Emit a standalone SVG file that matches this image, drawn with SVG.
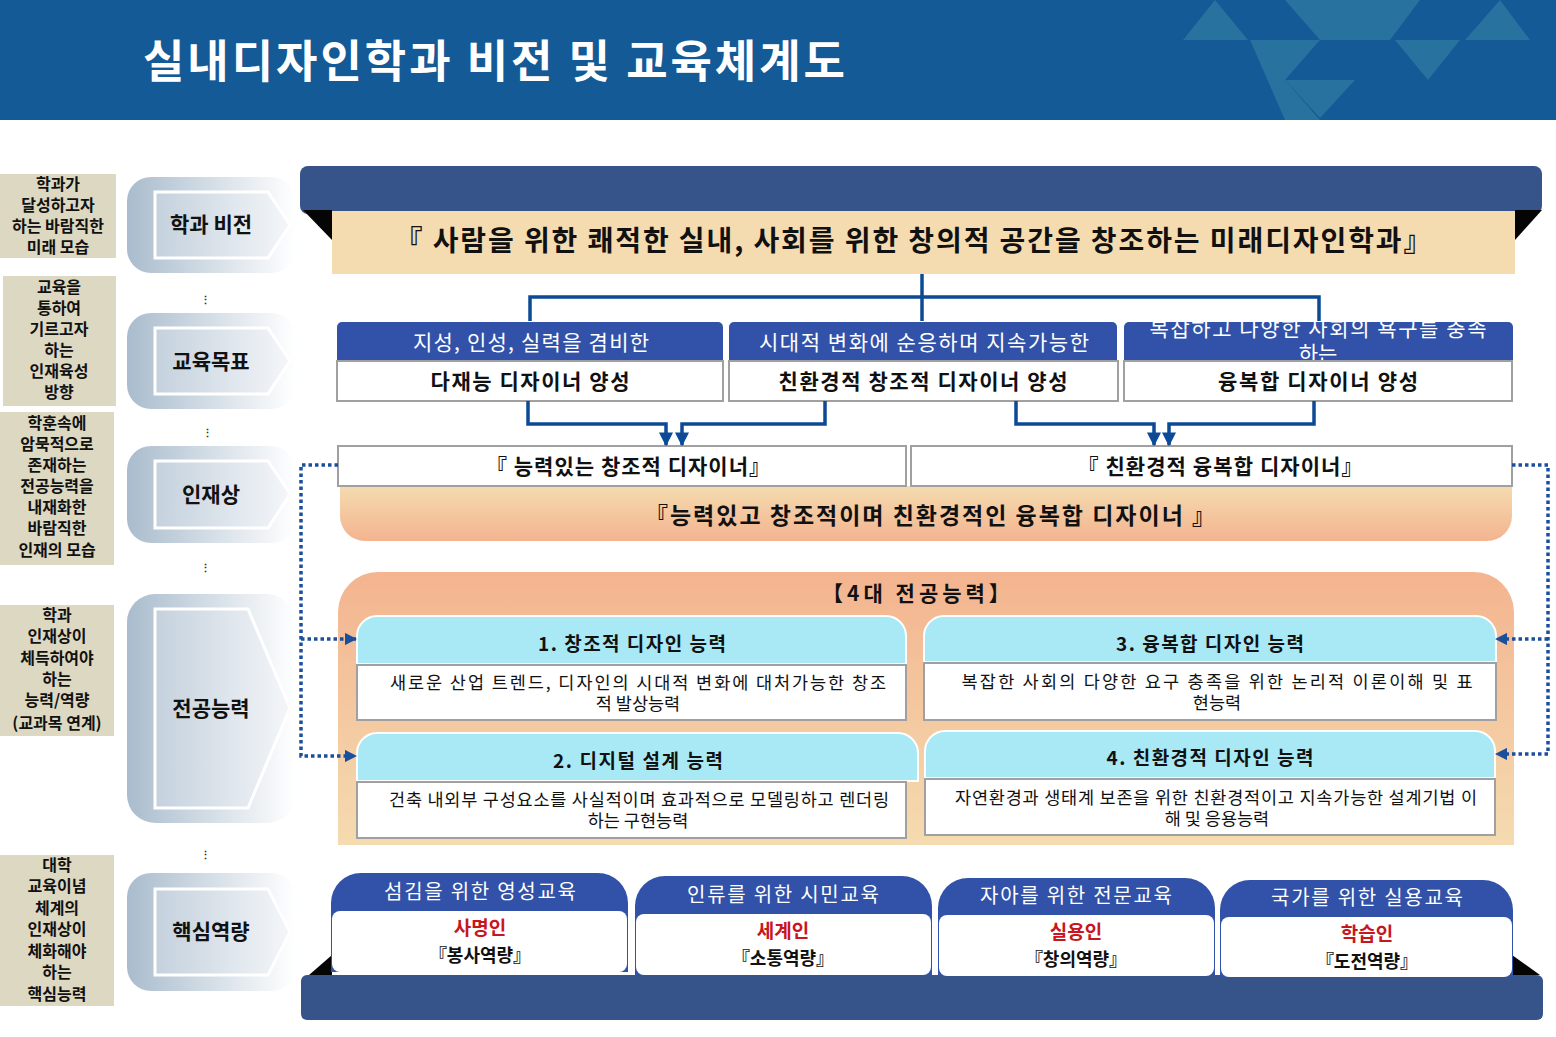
<svg xmlns="http://www.w3.org/2000/svg" width="1556" height="1037" viewBox="0 0 1556 1037">
<defs>
<style>
text{font-family:"Noto Sans CJK KR","Noto Sans",sans-serif;font-weight:bold;text-anchor:middle}
.lbl{font-size:16px;fill:#111}
.tab{font-size:21px;fill:#111}
.wh{fill:#fff}
.gbox{fill:#fff;stroke:#a0a0a0;stroke-width:2}
.conn{fill:none;stroke:#0d4a96;stroke-width:3.5}
.dot{fill:none;stroke:#1a4f9c;stroke-width:3.5;stroke-dasharray:3.5 3}
.cyan{fill:#a9e9f6}
.blue{fill:#3152a8}
.bar{fill:#36548a}
</style>
<linearGradient id="tabg" x1="0" y1="0" x2="1" y2="0"><stop offset="0" stop-color="#a9bccd"/><stop offset="1" stop-color="#ffffff"/></linearGradient>
<linearGradient id="tabi" x1="0" y1="0" x2="1" y2="0"><stop offset="0" stop-color="#c4d1dd"/><stop offset="1" stop-color="#f4f6f9"/></linearGradient>
<linearGradient id="peach" x1="0" y1="0" x2="0" y2="1"><stop offset="0" stop-color="#f3b48f"/><stop offset="1" stop-color="#f5dbb0"/></linearGradient>
<linearGradient id="peach2" x1="0" y1="0" x2="0" y2="1"><stop offset="0" stop-color="#f5dbb0"/><stop offset="1" stop-color="#f3b48f"/></linearGradient>
<marker id="ah" viewBox="0 0 10 10" refX="9" refY="5" markerWidth="4" markerHeight="4" orient="auto"><path d="M0,0L10,5L0,10z" fill="#0d4a96"/></marker>
<marker id="ah2" viewBox="0 0 10 10" refX="9" refY="5" markerWidth="3.5" markerHeight="3.5" orient="auto" markerUnits="strokeWidth"><path d="M0,0L10,5L0,10z" fill="#1a4f9c"/></marker>
<clipPath id="c3"><rect x="1124" y="321" width="389" height="40"/></clipPath>
</defs>

<g id="header">
<rect x="0" y="0" width="1556" height="120" fill="#135a96"/>
<g fill="#3a86a8" opacity="0.55">
<polygon points="1183,40 1248,40 1215,0"/>
<polygon points="1250,40 1320,40 1285,80 1320,120 1285,120"/>
<polygon points="1285,0 1320,40 1390,40 1420,0"/>
<polygon points="1395,40 1460,40 1428,80"/>
<polygon points="1465,40 1530,40 1500,0"/>
<polygon points="1285,80 1355,80 1320,118"/>
</g>
<text x="143" y="78" style="font-size:45px;text-anchor:start" textLength="702" class="wh">실내디자인학과 비전 및 교육체계도</text>
</g>

<g id="left-labels">
<rect x="0" y="174" width="116" height="84" fill="#ddd8c2"/>
<text class="lbl"><tspan x="58" y="190">학과가</tspan><tspan x="58" y="211">달성하고자</tspan><tspan x="58" y="232">하는 바람직한</tspan><tspan x="58" y="253">미래 모습</tspan></text>
<rect x="3" y="276" width="113" height="130" fill="#ddd8c2"/>
<text class="lbl"><tspan x="59" y="293">교육을</tspan><tspan x="59" y="314">통하여</tspan><tspan x="59" y="335">기르고자</tspan><tspan x="59" y="356">하는</tspan><tspan x="59" y="377">인재육성</tspan><tspan x="59" y="398">방향</tspan></text>
<rect x="0" y="412" width="114" height="153" fill="#ddd8c2"/>
<text class="lbl"><tspan x="57" y="429">학훈속에</tspan><tspan x="57" y="450">암묵적으로</tspan><tspan x="57" y="471">존재하는</tspan><tspan x="57" y="492">전공능력을</tspan><tspan x="57" y="513">내재화한</tspan><tspan x="57" y="534">바람직한</tspan><tspan x="57" y="556">인재의 모습</tspan></text>
<rect x="0" y="605" width="114" height="131" fill="#ddd8c2"/>
<text class="lbl"><tspan x="57" y="621">학과</tspan><tspan x="57" y="642">인재상이</tspan><tspan x="57" y="664">체득하여야</tspan><tspan x="57" y="685">하는</tspan><tspan x="57" y="706">능력/역량</tspan><tspan x="57" y="729">(교과목 연계)</tspan></text>
<rect x="0" y="855" width="114" height="151" fill="#ddd8c2"/>
<text class="lbl"><tspan x="57" y="871">대학</tspan><tspan x="57" y="892">교육이념</tspan><tspan x="57" y="914">체계의</tspan><tspan x="57" y="935">인재상이</tspan><tspan x="57" y="957">체화해야</tspan><tspan x="57" y="978">하는</tspan><tspan x="57" y="1000">핵심능력</tspan></text>
</g>

<g id="tab-vision">
<rect x="127" y="177" width="168" height="96" rx="24" fill="url(#tabg)"/>
<polygon points="155,192 268,192 290,225 268,258 155,258" fill="url(#tabi)" stroke="#fff" stroke-width="3"/>
<text x="211" y="232" class="tab">학과 비전</text>
</g>
<g id="tab-goal">
<rect x="127" y="313" width="168" height="96" rx="24" fill="url(#tabg)"/>
<polygon points="155,328 268,328 290,361 268,394 155,394" fill="url(#tabi)" stroke="#fff" stroke-width="3"/>
<text x="211" y="369" class="tab">교육목표</text>
</g>
<g id="tab-talent">
<rect x="127" y="446" width="168" height="97" rx="24" fill="url(#tabg)"/>
<polygon points="155,461 268,461 290,494 268,528 155,528" fill="url(#tabi)" stroke="#fff" stroke-width="3"/>
<text x="211" y="502" class="tab">인재상</text>
</g>
<g id="tab-major">
<rect x="127" y="594" width="168" height="229" rx="28" fill="url(#tabg)"/>
<polygon points="155,609 248,609 290,708 248,808 155,808" fill="url(#tabi)" stroke="#fff" stroke-width="3"/>
<text x="211" y="716" class="tab">전공능력</text>
</g>
<g id="tab-core">
<rect x="127" y="873" width="168" height="118" rx="24" fill="url(#tabg)"/>
<polygon points="155,889 268,889 290,932 268,975 155,975" fill="url(#tabi)" stroke="#fff" stroke-width="3"/>
<text x="211" y="939" class="tab">핵심역량</text>
</g>
<g id="dots" fill="#333">
<text x="205" y="304" style="font-size:11px">⋮</text>
<text x="207" y="437" style="font-size:11px">⋮</text>
<text x="205" y="572" style="font-size:11px">⋮</text>
<text x="205" y="859" style="font-size:11px">⋮</text>
</g>

<g id="vision">
<rect x="300" y="166" width="1242" height="48" rx="8" class="bar"/>
<polygon points="303,210 332,210 332,240" fill="#050505"/>
<polygon points="1515,210 1542,210 1515,240" fill="#050505"/>
<rect x="332" y="211" width="1183" height="63" fill="#f5dbb0"/>
<text x="913" y="251" style="font-size:28px" textLength="1037" fill="#111">『  사람을 위한 쾌적한 실내, 사회를 위한 창의적 공간을 창조하는 미래디자인학과』</text>
</g>

<g id="goal1">
<path d="M337,361V327a5,5 0 0 1 5,-5H718a5,5 0 0 1 5,5V361Z" class="blue"/>
<text x="531" y="350" style="font-size:21px;font-weight:normal" textLength="236" class="wh">지성, 인성, 실력을 겸비한</text>
<rect x="337" y="361" width="386" height="40" class="gbox"/>
<text x="530" y="389" style="font-size:21px" textLength="199" fill="#111">다재능 디자이너 양성</text>
</g>
<g id="goal2">
<path d="M729,361V327a5,5 0 0 1 5,-5H1112a5,5 0 0 1 5,5V361Z" class="blue"/>
<text x="924" y="350" style="font-size:21px;font-weight:normal" textLength="330" class="wh">시대적 변화에 순응하며 지속가능한</text>
<rect x="729" y="361" width="389" height="40" class="gbox"/>
<text x="923" y="389" style="font-size:21px" textLength="289" fill="#111">친환경적 창조적 디자이너 양성</text>
</g>
<g id="goal3">
<path d="M1124,361V327a5,5 0 0 1 5,-5H1508a5,5 0 0 1 5,5V361Z" class="blue"/>
<g clip-path="url(#c3)"><text class="wh" style="font-size:21px;font-weight:normal"><tspan x="1318" y="336" textLength="337">복잡하고 다양한 사회의 욕구를 충족</tspan><tspan x="1318" y="361">하는</tspan></text></g>
<rect x="1124" y="361" width="388" height="40" class="gbox"/>
<text x="1318" y="389" style="font-size:21px" textLength="200" fill="#111">융복합 디자이너 양성</text>
</g>

<g id="talent">
<path d="M340,486H1512V516a25,25 0 0 1 -25,25H365a25,25 0 0 1 -25,-25Z" fill="url(#peach2)"/>
<rect x="338" y="446" width="568" height="40" class="gbox"/>
<text x="628" y="474" style="font-size:21px" textLength="284" fill="#111">『 능력있는 창조적 디자이너』</text>
<rect x="911" y="446" width="601" height="40" class="gbox"/>
<text x="1220" y="474" style="font-size:21px" textLength="285" fill="#111">『 친환경적 융복합 디자이너』</text>
<text x="930" y="524" style="font-size:23px" textLength="570" fill="#111">『능력있고 창조적이며 친환경적인 융복합 디자이너 』</text>
</g>

<g id="major">
<path d="M338,845V612a40,40 0 0 1 40,-40H1474a40,40 0 0 1 40,40V845Z" fill="url(#peach)"/>
<text x="918" y="601" style="font-size:21px;letter-spacing:4px" fill="#111">【4대  전공능력】</text>
</g>
<g id="comp1">
<path d="M357,664V636a20,20 0 0 1 20,-20H886a20,20 0 0 1 20,20V664Z" class="cyan" stroke="#fff" stroke-width="2"/>
<text x="632" y="651" style="font-size:19px" textLength="188" fill="#111">1. 창조적 디자인 능력</text>
<rect x="357" y="665" width="549" height="55" class="gbox" stroke="#d0d0d0"/>
<text style="font-size:17.5px;font-weight:normal" fill="#111"><tspan x="638" y="689" textLength="496">새로운 산업 트렌드, 디자인의 시대적 변화에 대처가능한 창조</tspan><tspan x="638" y="710">적  발상능력</tspan></text>
</g>
<g id="comp2">
<path d="M357,781V753a20,20 0 0 1 20,-20H898a20,20 0 0 1 20,20V781Z" class="cyan" stroke="#fff" stroke-width="2"/>
<text x="638" y="768" style="font-size:19px" textLength="170" fill="#111">2. 디지털 설계 능력</text>
<rect x="357" y="782" width="549" height="56" class="gbox" stroke="#d0d0d0"/>
<text style="font-size:17.5px;font-weight:normal" fill="#111"><tspan x="639" y="806" textLength="500">건축 내외부 구성요소를 사실적이며 효과적으로 모델링하고 렌더링</tspan><tspan x="638" y="827">하는 구현능력</tspan></text>
</g>
<g id="comp3">
<path d="M924,662V636a20,20 0 0 1 20,-20H1476a20,20 0 0 1 20,20V662Z" class="cyan" stroke="#fff" stroke-width="2"/>
<text x="1210" y="651" style="font-size:19px" textLength="188" fill="#111">3. 융복합 디자인 능력</text>
<rect x="924" y="663" width="572" height="57" class="gbox" stroke="#d0d0d0"/>
<text style="font-size:17.5px;font-weight:normal" fill="#111"><tspan x="1217" y="688" textLength="511">복잡한 사회의 다양한 요구 충족을 위한  논리적 이론이해 및 표</tspan><tspan x="1217" y="709">현능력</tspan></text>
</g>
<g id="comp4">
<path d="M925,778V751a20,20 0 0 1 20,-20H1475a20,20 0 0 1 20,20V778Z" class="cyan" stroke="#fff" stroke-width="2"/>
<text x="1210" y="765" style="font-size:19px" textLength="207" fill="#111">4. 친환경적 디자인 능력</text>
<rect x="925" y="779" width="570" height="56" class="gbox" stroke="#d0d0d0"/>
<text style="font-size:17.5px;font-weight:normal" fill="#111"><tspan x="1216" y="804" textLength="522">자연환경과 생태계 보존을 위한 친환경적이고 지속가능한 설계기법 이</tspan><tspan x="1217" y="825">해 및 응용능력</tspan></text>
</g>

<g id="core-bar">
<polygon points="309,975 332,955 332,975" fill="#050505"/>
<polygon points="1512,955 1540,975 1512,975" fill="#050505"/>
<rect x="301" y="975" width="1242" height="45" rx="6" class="bar"/>
</g>
<g id="core1">
<path d="M331,972V903a30,30 0 0 1 30,-30H598a30,30 0 0 1 30,30V972Z" class="blue"/>
<text x="480" y="899" style="font-size:20px;font-weight:normal" textLength="192" class="wh">섬김을 위한 영성교육</text>
<rect x="332" y="911" width="295" height="61" rx="8" fill="#fff"/>
<text x="480" y="935" style="font-size:19px" fill="#c8161d">사명인</text>
<text x="480" y="962" style="font-size:18px" fill="#111">『봉사역량』</text>
</g>
<g id="core2">
<path d="M635,975V906a30,30 0 0 1 30,-30H902a30,30 0 0 1 30,30V975Z" class="blue"/>
<text x="783" y="902" style="font-size:20px;font-weight:normal" textLength="192" class="wh">인류를 위한 시민교육</text>
<rect x="636" y="914" width="295" height="61" rx="8" fill="#fff"/>
<text x="783" y="938" style="font-size:19px" fill="#c8161d">세계인</text>
<text x="783" y="965" style="font-size:18px" fill="#111">『소통역량』</text>
</g>
<g id="core3">
<path d="M938,976V908a30,30 0 0 1 30,-30H1185a30,30 0 0 1 30,30V976Z" class="blue"/>
<text x="1076" y="903" style="font-size:20px;font-weight:normal" textLength="192" class="wh">자아를 위한 전문교육</text>
<rect x="939" y="915" width="275" height="61" rx="8" fill="#fff"/>
<text x="1076" y="939" style="font-size:19px" fill="#c8161d">실용인</text>
<text x="1076" y="966" style="font-size:18px" fill="#111">『창의역량』</text>
</g>
<g id="core4">
<path d="M1220,977V910a30,30 0 0 1 30,-30H1483a30,30 0 0 1 30,30V977Z" class="blue"/>
<text x="1367" y="905" style="font-size:20px;font-weight:normal" textLength="192" class="wh">국가를 위한 실용교육</text>
<rect x="1221" y="917" width="291" height="60" rx="8" fill="#fff"/>
<text x="1367" y="941" style="font-size:19px" fill="#c8161d">학습인</text>
<text x="1367" y="968" style="font-size:18px" fill="#111">『도전역량』</text>
</g>

<g id="connectors">
<polyline class="conn" points="922,274 922,321"/>
<polyline class="conn" points="530,321 530,297 1319,297 1319,321"/>
<polyline class="conn" points="528,401 528,424 666,424 666,445" marker-end="url(#ah)"/>
<polyline class="conn" points="825,401 825,424 682,424 682,445" marker-end="url(#ah)"/>
<polyline class="conn" points="1016,401 1016,424 1154,424 1154,445" marker-end="url(#ah)"/>
<polyline class="conn" points="1314,401 1314,424 1169,424 1169,445" marker-end="url(#ah)"/>
<polyline class="dot" points="338,465 301,465 301,756 356,756" marker-end="url(#ah2)"/>
<polyline class="dot" points="301,639 356,639" marker-end="url(#ah2)"/>
<polyline class="dot" points="1512,465 1548,465 1548,754 1496,754" marker-end="url(#ah2)"/>
<polyline class="dot" points="1548,639 1496,639" marker-end="url(#ah2)"/>
</g>
</svg>
